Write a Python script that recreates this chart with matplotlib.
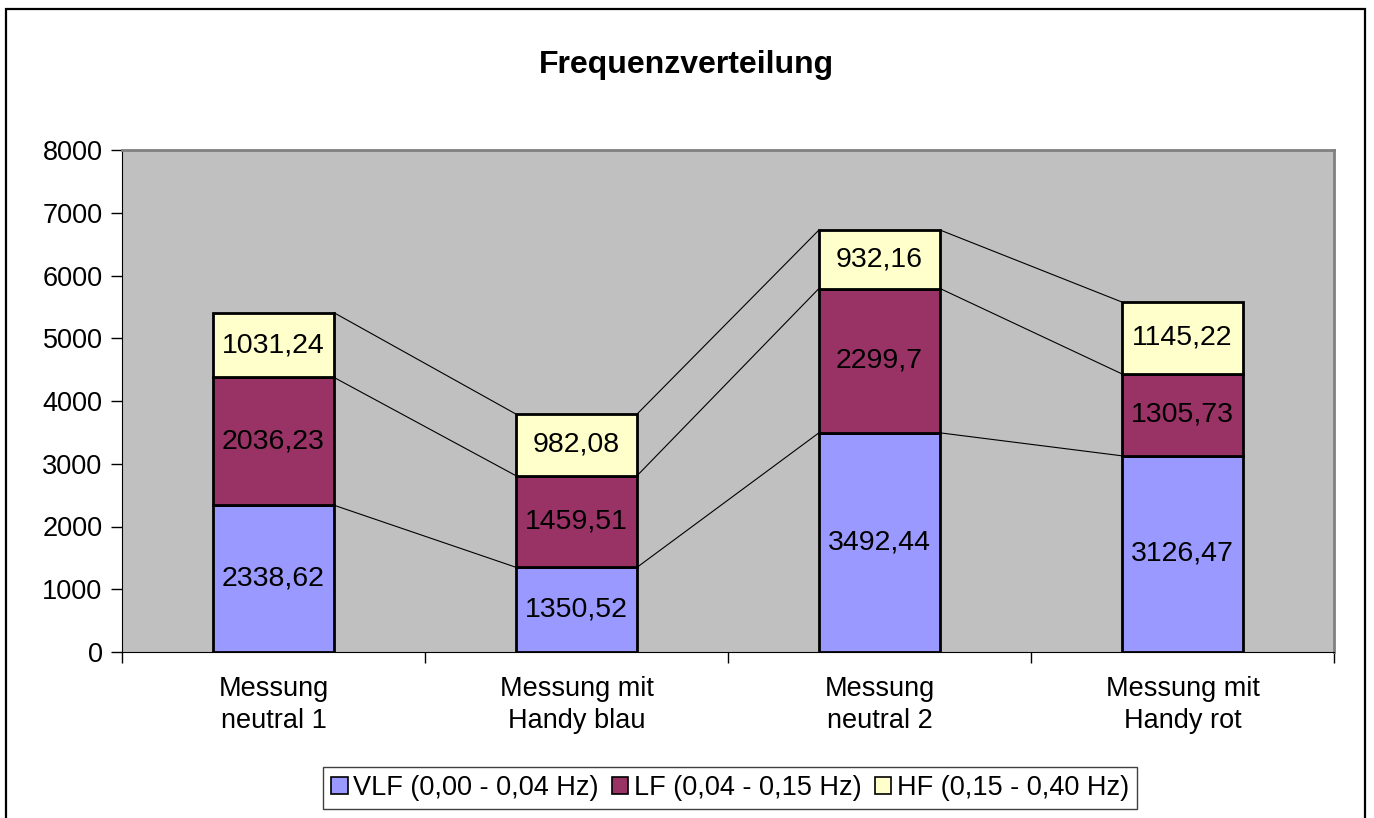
import matplotlib
matplotlib.use("Agg")
import matplotlib.pyplot as plt
from matplotlib.patches import Rectangle
import numpy as np

plt.rcParams["font.family"] = ["Liberation Sans", "DejaVu Sans"]

categories = ["Messung\nneutral 1", "Messung mit\nHandy blau", "Messung\nneutral 2", "Messung mit\nHandy rot"]
series_names = ["VLF (0,00 - 0,04 Hz)", "LF (0,04 - 0,15 Hz)", "HF (0,15 - 0,40 Hz)"]
vlf = [2338.62, 1350.52, 3492.44, 3126.47]
lf = [2036.23, 1459.51, 2299.7, 1305.73]
hf = [1031.24, 982.08, 932.16, 1145.22]
colors = ["#9999FF", "#993366", "#FFFFCC"]
yticks = [0, 1000, 2000, 3000, 4000, 5000, 6000, 7000, 8000]

W, H = 1374, 818
fig = plt.figure(figsize=(W / 100, H / 100), dpi=100)
ax = fig.add_axes([122 / W, 1 - 652 / H, (1334 - 122) / W, (652 - 150) / H])
ax.set_facecolor("#C0C0C0")

x = np.arange(len(categories))
width = 0.4
bottom = np.zeros(len(categories))
for name, vals, col in zip(series_names, [vlf, lf, hf], colors):
    vals = np.array(vals)
    ax.bar(x, vals, width, bottom=bottom, color=col, edgecolor="black",
           linewidth=2, label=name, zorder=3)
    for xi, b, v in zip(x, bottom, vals):
        ax.text(xi, b + v / 2, str(v).replace(".", ","), ha="center", va="center",
                fontsize=20.5, zorder=4)
    top = bottom + vals
    # series lines between stacked bars
    for i in range(len(x) - 1):
        ax.plot([x[i] + width / 2, x[i + 1] - width / 2], [top[i], top[i + 1]],
                color="black", linewidth=0.8, zorder=2)
    bottom = top

ax.set_xlim(-0.5, len(categories) - 0.5)
ax.set_ylim(0, 8000)
ax.set_yticks(yticks)
ax.set_yticklabels([str(t) for t in yticks], fontsize=19.5)
ax.set_xticks(x)
ax.set_xticklabels(categories, fontsize=19.5, linespacing=1.3)
ax.set_xticks(np.arange(-0.5, len(categories)), minor=True)
ax.tick_params(axis="x", which="major", length=0, pad=17)
ax.tick_params(axis="x", which="minor", length=8, width=1, direction="out")
ax.tick_params(axis="y", length=8, width=1, direction="out", pad=6)

for s in ["top", "right"]:
    ax.spines[s].set_color("#808080")
    ax.spines[s].set_linewidth(2)
ax.spines["left"].set_color("black")
ax.spines["bottom"].set_color("black")

fig.text(686 / W, 1 - 65 / H, "Frequenzverteilung", ha="center", va="center",
         fontsize=23, fontweight="bold")

leg = fig.legend(loc="center", bbox_to_anchor=(730 / W, 1 - 788 / H), ncol=3,
                 fontsize=19.5, frameon=True, fancybox=False, framealpha=1,
                 edgecolor="#404040", handlelength=0.6, handleheight=0.6,
                 handletextpad=0.2, columnspacing=0.5, borderpad=0.3,
                 borderaxespad=0)
leg.get_frame().set_linewidth(1)
for h in leg.legend_handles:
    h.set_linewidth(1.2)

fig.add_artist(Rectangle((6 / W, -0.05), (1365 - 6) / W, 1.05 - 9 / H,
                         transform=fig.transFigure, fill=False,
                         edgecolor="black", linewidth=1.6))

fig.savefig("out.png", dpi=100)
